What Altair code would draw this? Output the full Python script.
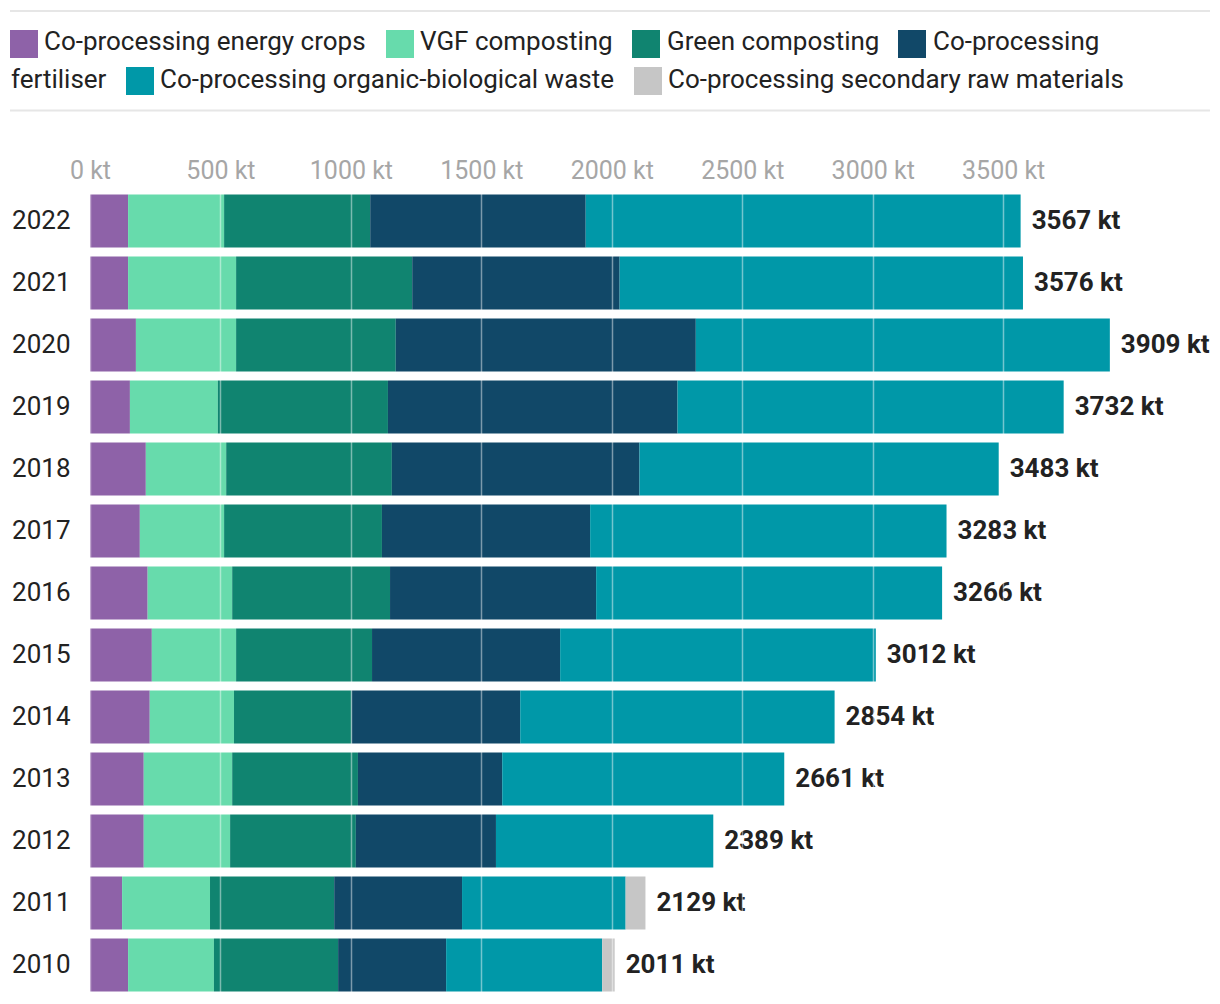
import altair as alt
import pandas as pd

# ---------------- data ----------------
years = [2022, 2021, 2020, 2019, 2018, 2017, 2016, 2015, 2014, 2013, 2012, 2011, 2010]
categories = [
    "Co-processing energy crops",
    "VGF composting",
    "Green composting",
    "Co-processing fertiliser",
    "Co-processing organic-biological waste",
    "Co-processing secondary raw materials",
]
colors = ["#8e62a8", "#67dbac", "#108470", "#114868", "#0098a8", "#c6c6c6"]

energy_crops = [146, 146, 176, 153, 214, 191, 221, 237, 229, 206, 206, 123, 146]
vgf_composting = [368, 414, 384, 337, 308, 323, 324, 323, 323, 339, 331, 337, 329]
green_composting = [560, 675, 612, 652, 635, 605, 605, 521, 451, 482, 482, 476, 476]
fertiliser = [826, 795, 1150, 1110, 949, 798, 790, 721, 646, 553, 537, 490, 414]
organic_waste = [1667, 1546, 1587, 1480, 1377, 1366, 1326, 1210, 1205, 1081, 833, 627, 598]
secondary_raw = [0, 0, 0, 0, 0, 0, 0, 0, 0, 0, 0, 76, 48]
totals = [3567, 3576, 3909, 3732, 3483, 3283, 3266, 3012, 2854, 2661, 2389, 2129, 2011]

tick_values = [0, 500, 1000, 1500, 2000, 2500, 3000, 3500]

series = [energy_crops, vgf_composting, green_composting, fertiliser, organic_waste, secondary_raw]

rows = []
for i, yr in enumerate(years):
    for j, cat in enumerate(categories):
        rows.append({"year": str(yr), "category": cat, "order": j, "value": series[j][i]})
df = pd.DataFrame(rows)
tot = pd.DataFrame({"year": [str(y) for y in years], "total": totals,
                    "label": [f"{t} kt" for t in totals]})

# ---------------- layout ----------------
W = 1043.6
H = 806
FONT = "Roboto"
TEXT = "#222222"

color_scale = alt.Scale(domain=categories, range=colors)
year_order = [str(y) for y in years]

y_enc = alt.Y(
    "year:N", sort=year_order, title=None,
    scale=alt.Scale(paddingInner=0.145, paddingOuter=0.0725),
    axis=alt.Axis(ticks=False, tickSize=0, domain=False, labelFontSize=26, labelFont=FONT,
                  labelColor=TEXT, labelPadding=20),
)

bars = alt.Chart(df).mark_bar().encode(
    x=alt.X(
        "value:Q", stack="zero", title=None,
        scale=alt.Scale(domain=[0, 4000], nice=False, zero=True),
        axis=alt.Axis(orient="top", values=tick_values, labelExpr="datum.value + ' kt'",
                      ticks=False, tickSize=0, domain=False, grid=True, gridColor="#ffffff",
                      gridOpacity=0.45, gridWidth=1.5, labelColor="#a6a6a6", labelFontSize=25,
                      labelFont=FONT, labelPadding=7, labelFlush=False, zindex=1),
    ),
    y=y_enc,
    color=alt.Color("category:N", scale=color_scale, legend=None),
    order=alt.Order("order:Q"),
)

labels = alt.Chart(tot).mark_text(
    align="left", baseline="middle", dx=11, fontSize=26, fontWeight="bold", font=FONT, color=TEXT
).encode(
    x=alt.X("total:Q"),
    y=alt.Y("year:N", sort=year_order),
    text="label:N",
)

# ---------------- manual flowing legend (as in the reference) ----------------
leg_sw = pd.DataFrame({
    "category": categories,
    "px": [-66, 310, 556, 822, 50, 558],
    "py": [-146, -146, -146, -146, -109, -109],
})
leg_tx = pd.DataFrame({
    "label": ["Co-processing energy crops", "VGF composting", "Green composting", "Co-processing",
              "fertiliser", "Co-processing organic-biological waste",
              "Co-processing secondary raw materials"],
    "tx": [-46, 330, 577, 843, -79, 70, 578],
    "ty": [-148, -148, -148, -148, -110, -110, -110],
})
leg_lines = pd.DataFrame({"ly": [-179, -79.5]})

swatches = alt.Chart(leg_sw).mark_square(size=28 * 28, opacity=1).encode(
    x=alt.X("px:Q", scale=None, axis=None),
    y=alt.Y("py:Q", scale=None, axis=None),
    color=alt.Color("category:N", scale=color_scale, legend=None),
)
legend_text = alt.Chart(leg_tx).mark_text(
    align="left", baseline="middle", fontSize=26, font=FONT, color=TEXT
).encode(
    x=alt.X("tx:Q", scale=None, axis=None),
    y=alt.Y("ty:Q", scale=None, axis=None),
    text="label:N",
)
rules = alt.Chart(leg_lines).mark_rule(color="#e6e6e6", strokeWidth=2).encode(
    x=alt.value(-80), x2=alt.value(1120),
    y=alt.Y("ly:Q", scale=None, axis=None),
)

chart = alt.layer(rules, swatches, legend_text, bars, labels).properties(
    width=W, height=H,
    padding={"left": 90, "top": 190, "right": 86, "bottom": 8},
    autosize=alt.AutoSizeParams(type="none"),
    background="#ffffff",
).configure_view(stroke=None)

chart.save("out.html", embed_options={"renderer": "svg", "actions": False})
